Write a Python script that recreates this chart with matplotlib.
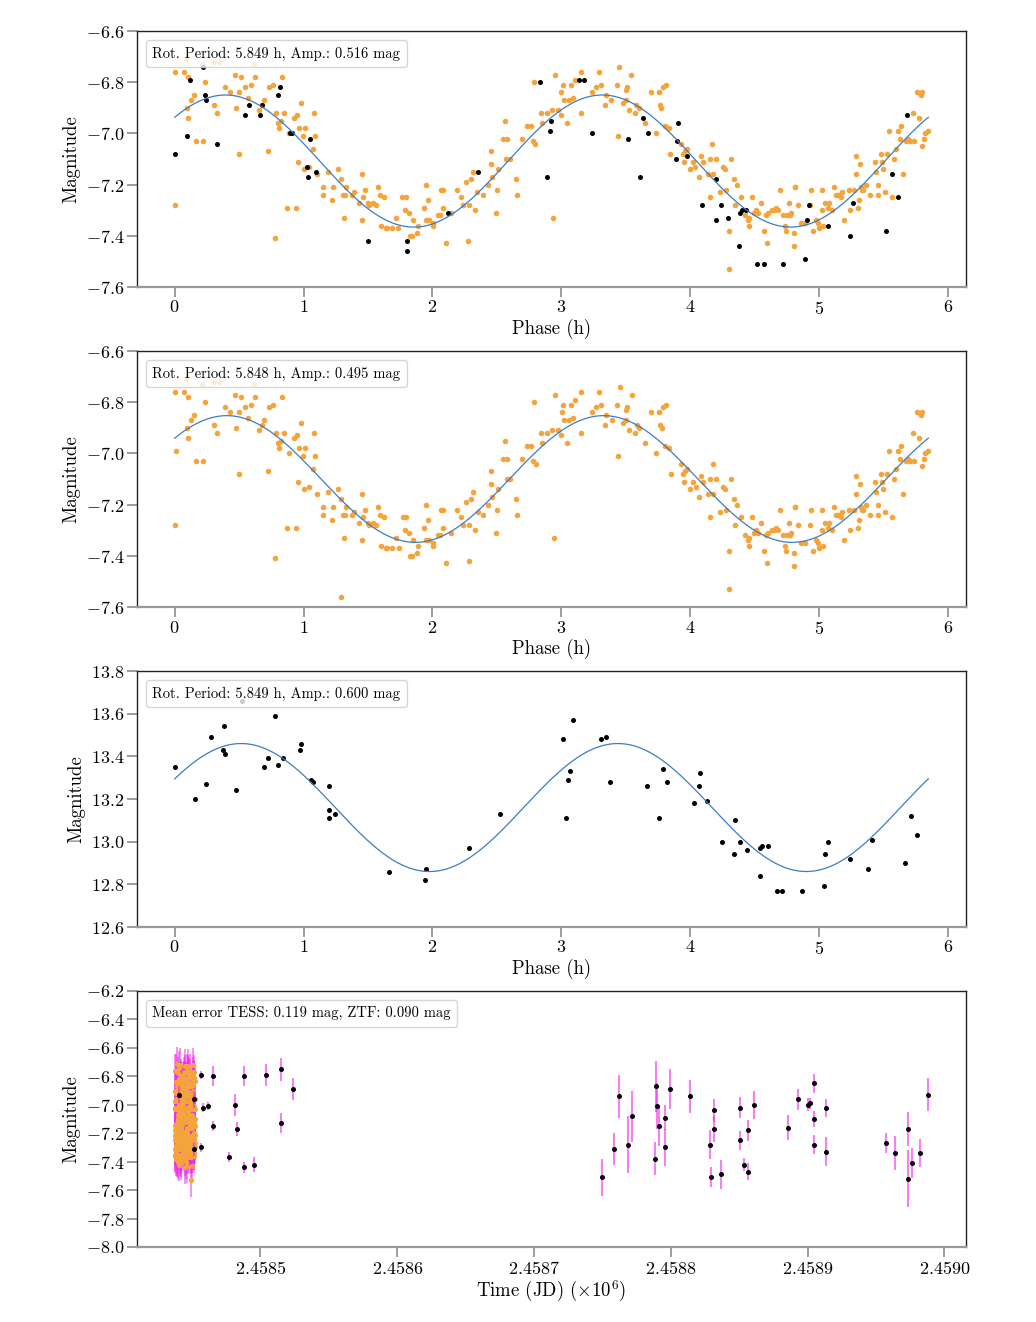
import numpy as np
import matplotlib
matplotlib.use("Agg")
import matplotlib.pyplot as plt
from matplotlib.ticker import MultipleLocator, ScalarFormatter
from matplotlib.lines import Line2D

plt.rcParams.update({
    "font.family": "serif",
    "font.serif": ["cmr10"],
    "mathtext.fontset": "cm",
    "axes.formatter.use_mathtext": True,
    "axes.unicode_minus": True,
})

# ---------------- data ----------------
# TESS photometry folded on the rotation period (phase in hours, absolute mag)
tess_phase = [
    0.005, 0.000, 0.070, 0.098, 0.104, 0.104, 0.129, 0.150, 0.163, 0.223,
    0.233, 0.303, 0.326, 0.393, 0.432, 0.466, 0.479, 0.497, 0.499, 0.512,
    0.543, 0.569, 0.590, 0.626, 0.652, 0.678, 0.696, 0.722, 0.732, 0.766,
    0.782, 0.789, 0.805, 0.836, 0.826, 0.810, 0.846, 0.872, 0.888, 0.929,
    0.939, 0.950, 0.955, 0.965, 0.978, 0.999, 1.002, 1.012, 1.040, 1.071,
    1.084, 1.090, 1.102, 1.149, 1.149, 1.193, 1.222, 1.232, 1.268, 1.289,
    1.312, 1.330, 1.304, 1.325, 1.379, 1.392, 1.429, 1.452, 1.454, 1.465,
    1.478, 1.498, 1.511, 1.542, 1.563, 1.579, 1.592, 1.602, 1.628, 1.643,
    1.649, 1.690, 1.716, 1.737, 1.768, 1.788, 1.796, 1.817, 1.825, 1.840,
    1.848, 1.881, 1.889, 1.933, 1.949, 1.954, 1.967, 1.977, 2.006, 2.008,
    2.045, 2.060, 2.068, 2.081, 2.081, 2.104, 2.145, 2.192, 2.220, 2.236,
    2.264, 2.285, 2.280, 2.303, 2.316, 2.334, 2.350, 2.394, 2.430, 2.453,
    2.453, 2.464, 2.497, 2.500, 2.510, 2.547, 2.562, 2.580, 2.575, 2.603,
    2.648, 2.653, 2.692, 2.736, 2.767, 2.780, 2.787, 2.800, 2.842, 2.847,
    2.891, 2.930, 2.940, 2.955, 2.976, 2.997, 3.002, 3.012, 3.023, 3.046,
    3.059, 3.072, 3.090, 3.106, 3.150, 3.150, 3.235, 3.266, 3.292, 3.305,
    3.338, 3.349, 3.390, 3.429, 3.439, 3.452, 3.478, 3.499, 3.509, 3.504,
    3.525, 3.545, 3.571, 3.584, 3.602, 3.649, 3.696, 3.732, 3.758, 3.765,
    3.778, 3.789, 3.812, 3.802, 3.835, 3.848, 3.931, 3.944, 3.952, 3.960,
    3.978, 3.998, 4.022, 4.042, 4.068, 4.084, 4.102, 4.138, 4.151, 4.154,
    4.174, 4.177, 4.198, 4.234, 4.255, 4.268, 4.278, 4.301, 4.314, 4.301,
    4.340, 4.348, 4.363, 4.392, 4.425, 4.446, 4.454, 4.456, 4.477, 4.495,
    4.513, 4.529, 4.547, 4.570, 4.586, 4.594, 4.607, 4.638, 4.653, 4.669,
    4.684, 4.695, 4.720, 4.733, 4.744, 4.754, 4.767, 4.772, 4.785, 4.803,
    4.803, 4.811, 4.814, 4.834, 4.860, 4.889, 4.933, 4.940, 4.953, 4.979,
    4.995, 5.000, 5.021, 5.026, 5.034, 5.047, 5.067, 5.080, 5.104, 5.116,
    5.135, 5.145, 5.168, 5.181, 5.197, 5.233, 5.243, 5.269, 5.285, 5.290,
    5.303, 5.311, 5.316, 5.326, 5.337, 5.344, 5.362, 5.396, 5.432, 5.440,
    5.455, 5.458, 5.479, 5.492, 5.499, 5.512, 5.530, 5.543, 5.569, 5.582,
    5.600, 5.613, 5.626, 5.637, 5.650, 5.673, 5.694, 5.704, 5.730, 5.740,
    5.764, 5.777, 5.789, 5.797, 5.802, 5.815, 5.823, 5.844, 0.091, 0.212,
    0.303, 0.347, 0.613,
]
tess_mag = [
    -6.76, -7.28, -6.76, -6.90, -6.94, -6.78, -6.87, -6.85, -7.03, -7.03,
    -6.80, -6.89, -6.92, -6.82, -6.84, -6.77, -6.90, -6.84, -7.08, -6.78,
    -6.82, -6.86, -6.81, -6.78, -6.91, -6.89, -6.87, -7.07, -6.82, -6.81,
    -7.41, -6.92, -6.96, -6.78, -6.95, -6.98, -6.92, -7.29, -7.00, -6.94,
    -7.29, -6.93, -7.11, -6.98, -6.88, -7.01, -7.14, -6.98, -7.13, -7.06,
    -6.92, -7.01, -7.16, -7.21, -7.24, -7.15, -7.26, -7.21, -7.14, -7.18,
    -7.33, -7.21, -7.24, -7.24, -7.24, -7.23, -7.27, -7.16, -7.34, -7.25,
    -7.22, -7.27, -7.28, -7.27, -7.28, -7.21, -7.24, -7.36, -7.25, -7.37,
    -7.37, -7.37, -7.33, -7.37, -7.25, -7.30, -7.25, -7.31, -7.40, -7.40,
    -7.34, -7.39, -7.36, -7.29, -7.20, -7.34, -7.26, -7.34, -7.36, -7.35,
    -7.32, -7.32, -7.22, -7.22, -7.29, -7.43, -7.31, -7.22, -7.25, -7.28,
    -7.19, -7.28, -7.42, -7.18, -7.15, -7.30, -7.23, -7.24, -7.20, -7.07,
    -7.12, -7.17, -7.31, -7.22, -7.14, -7.02, -6.95, -7.02, -7.10, -7.10,
    -7.18, -7.24, -7.02, -6.97, -6.97, -7.03, -6.80, -7.04, -6.92, -6.96,
    -6.92, -6.91, -7.33, -6.77, -6.91, -6.93, -6.84, -6.81, -6.87, -6.96,
    -6.87, -6.81, -6.86, -6.79, -6.76, -6.92, -6.84, -6.82, -6.76, -6.81,
    -6.89, -6.85, -6.87, -6.81, -7.01, -6.74, -6.88, -6.83, -6.82, -6.87,
    -6.91, -6.77, -6.92, -6.89, -6.90, -6.96, -6.84, -7.00, -6.84, -6.89,
    -6.90, -6.82, -6.81, -6.97, -6.98, -7.08, -7.04, -7.08, -7.11, -7.07,
    -7.06, -7.14, -7.11, -7.13, -7.17, -7.09, -7.11, -7.16, -7.10, -7.25,
    -7.04, -7.16, -7.10, -7.23, -7.13, -7.14, -7.22, -7.38, -7.10, -7.53,
    -7.18, -7.28, -7.20, -7.25, -7.32, -7.34, -7.33, -7.36, -7.25, -7.31,
    -7.30, -7.31, -7.27, -7.38, -7.32, -7.43, -7.31, -7.30, -7.30, -7.29,
    -7.30, -7.22, -7.32, -7.36, -7.38, -7.32, -7.27, -7.32, -7.31, -7.39,
    -7.44, -7.21, -7.21, -7.28, -7.35, -7.35, -7.28, -7.22, -7.38, -7.34,
    -7.35, -7.37, -7.22, -7.30, -7.36, -7.27, -7.29, -7.27, -7.30, -7.21,
    -7.24, -7.24, -7.25, -7.23, -7.34, -7.22, -7.30, -7.22, -7.16, -7.09,
    -7.29, -7.26, -7.12, -7.21, -7.22, -7.22, -7.20, -7.24, -7.11, -7.15,
    -7.20, -7.24, -7.08, -7.11, -7.14, -7.23, -7.08, -6.99, -7.25, -7.10,
    -7.06, -6.99, -7.02, -6.97, -7.16, -7.03, -7.02, -7.03, -6.92, -7.03,
    -6.84, -6.94, -6.85, -6.84, -7.05, -7.02, -7.00, -6.99, -6.71, -6.73,
    -6.72, -6.72, -6.73,
]
# points present only in the TESS-only fold
tess_extra_phase = [0.013, 1.291]
tess_extra_mag = [-6.99, -7.56]

# ZTF points (absolute mag) folded together with TESS
ztf_phase_a = [
    0.005, 0.098, 0.119, 0.217, 0.233, 0.246, 0.331, 0.543, 0.580, 0.660,
    0.678, 0.805, 0.820, 0.895, 0.908, 1.030, 1.033, 1.051, 1.100, 1.498,
    1.806, 1.801, 2.125, 2.355, 2.839, 2.888, 2.911, 2.924, 3.137, 3.175,
    3.235, 3.522, 3.615, 3.633, 3.672, 3.887, 3.895, 3.908, 3.978, 4.092,
    4.198, 4.200, 4.242, 4.296, 4.376, 4.387, 4.405, 4.436, 4.519, 4.573,
    4.718, 4.891, 4.904, 4.920, 5.067, 5.238, 5.261, 5.517, 5.567, 5.611,
    5.683,
]
ztf_mag_a = [
    -7.08, -7.01, -6.79, -6.74, -6.85, -6.87, -7.04, -6.93, -6.89, -6.93,
    -6.89, -6.85, -6.82, -7.00, -7.00, -7.13, -7.17, -7.02, -7.15, -7.42,
    -7.42, -7.46, -7.31, -7.15, -6.80, -7.17, -6.99, -6.95, -6.79, -6.79,
    -7.00, -7.02, -7.17, -6.94, -7.00, -7.10, -7.03, -6.96, -7.09, -7.28,
    -7.34, -7.18, -7.28, -7.33, -7.44, -7.31, -7.30, -7.30, -7.51, -7.51,
    -7.51, -7.49, -7.34, -7.28, -7.36, -7.40, -7.27, -7.38, -7.16, -7.25,
    -6.93,
]

# ZTF-only fold (apparent mag)
ztf_phase_b = [
    0.000, 0.155, 0.243, 0.282, 0.375, 0.380, 0.393, 0.476, 0.523, 0.691,
    0.725, 0.779, 0.800, 0.839, 0.970, 0.983, 1.058, 1.077, 1.196, 1.196,
    1.199, 1.247, 1.667, 1.946, 1.954, 2.288, 2.523, 3.010, 3.036, 3.056,
    3.067, 3.095, 3.307, 3.346, 3.382, 3.664, 3.755, 3.786, 3.820, 4.032,
    4.068, 4.079, 4.128, 4.244, 4.340, 4.350, 4.389, 4.441, 4.539, 4.555,
    4.542, 4.607, 4.674, 4.715, 4.868, 5.041, 5.047, 5.067, 5.238, 5.378,
    5.409, 5.667, 5.716, 5.763,
]
ztf_mag_b = [
    13.35, 13.20, 13.27, 13.49, 13.43, 13.54, 13.41, 13.24, 13.66, 13.35,
    13.39, 13.59, 13.36, 13.39, 13.43, 13.46, 13.29, 13.28, 13.26, 13.15,
    13.11, 13.13, 12.86, 12.82, 12.87, 12.97, 13.13, 13.48, 13.11, 13.29,
    13.33, 13.57, 13.48, 13.49, 13.28, 13.26, 13.11, 13.34, 13.28, 13.18,
    13.26, 13.32, 13.19, 13.00, 12.94, 13.10, 13.00, 12.96, 12.97, 12.98,
    12.84, 12.98, 12.77, 12.77, 12.77, 12.79, 12.94, 13.00, 12.92, 12.87,
    13.01, 12.90, 13.12, 13.03,
]

# ZTF light curve in time
ztf_jd = [
    2458440.1, 2458451.3, 2458451.3, 2458456.2, 2458458.2, 2458456.2, 2458462.0,
    2458465.2, 2458465.0, 2458477.1, 2458481.2, 2458483.0, 2458488.1, 2458488.1,
    2458495.1, 2458504.1, 2458515.1, 2458515.1, 2458523.9,
    2458749.6, 2458758.6, 2458761.8, 2458768.6, 2458771.5, 2458788.8, 2458789.5,
    2458789.8, 2458791.7, 2458795.9, 2458795.9, 2458799.8, 2458813.9, 2458828.7,
    2458829.7, 2458831.6, 2458831.6, 2458836.7, 2458850.6, 2458850.6, 2458853.5,
    2458856.7, 2458856.7, 2458860.6, 2458885.6, 2458892.7, 2458900.5, 2458901.5,
    2458904.6, 2458904.6, 2458904.6, 2458913.4, 2458913.4, 2458957.5, 2458964.2,
    2458973.2, 2458973.2, 2458976.2, 2458982.3, 2458988.3,
]
ztf_mag_t = [
    -6.93, -6.96, -7.31, -6.79, -7.02, -7.30, -7.01, -6.80, -7.15, -7.37,
    -7.00, -7.17, -6.80, -7.44, -7.42, -6.79, -6.75, -7.13, -6.89,
    -7.51, -7.31, -6.94, -7.28, -7.08, -7.38, -6.87, -7.01, -7.15, -7.09,
    -7.30, -6.89, -6.94, -7.28, -7.51, -7.04, -7.17, -7.49, -7.25, -7.02,
    -7.42, -7.18, -7.47, -7.00, -7.16, -6.96, -7.00, -6.99, -6.85, -7.10,
    -7.28, -7.02, -7.33, -7.27, -7.34, -7.17, -7.52, -7.41, -7.34, -6.93,
]
ztf_err = [
    0.06, 0.06, 0.05, 0.03, 0.03, 0.03, 0.03, 0.07, 0.035, 0.035,
    0.078, 0.05, 0.07, 0.04, 0.055, 0.075, 0.08, 0.07, 0.075,
    0.132, 0.110, 0.152, 0.199, 0.18, 0.117, 0.18, 0.16, 0.14, 0.09,
    0.13, 0.14, 0.117, 0.10, 0.07, 0.08, 0.09, 0.10, 0.065, 0.074,
    0.048, 0.076, 0.062, 0.10, 0.09, 0.074, 0.045, 0.04, 0.066, 0.055,
    0.066, 0.063, 0.103, 0.07, 0.12, 0.12, 0.20, 0.103, 0.096, 0.117,
]

# fit parameters
period_a, amp_a, mean_a, peak_a = 5.849, 0.516, -7.108, 0.394
period_b, amp_b, mean_b, peak_b = 5.848, 0.495, -7.100, 0.405
period_c, amp_c, mean_c, peak_c = 5.849, 0.600, 13.160, 0.515
tess_mean_err, ztf_mean_err = 0.119, 0.090
tess_start_jd = 2458437.3
tess_n_cycles = 61

legend_a = "Rot. Period: 5.849 h, Amp.: 0.516 mag"
legend_b = "Rot. Period: 5.848 h, Amp.: 0.495 mag"
legend_c = "Rot. Period: 5.849 h, Amp.: 0.600 mag"
legend_d = "Mean error TESS: 0.119 mag, ZTF: 0.090 mag"

# ---------------- styling ----------------
ORANGE = "#F4A43C"
BLUE = "#3C7DC2"
MAG = "#EE2BEE"
TICK_GRAY = "#8c8c8c"
FS_TICK = 13
FS_LABEL = 13.5
FS_LEG = 10.5

fig = plt.figure(figsize=(10.36, 13.22), dpi=100)
left, width, height = 137 / 1036, (966 - 137) / 1036, 256 / 1322
bottoms = [1 - 287 / 1322, 1 - 607 / 1322, 1 - 927 / 1322, 1 - 1247 / 1322]
axes = [fig.add_axes([left, b, width, height]) for b in bottoms]


def style(ax):
    for s in ["left", "top", "right"]:
        ax.spines[s].set_color("#222222")
        ax.spines[s].set_linewidth(1.0)
    ax.spines["bottom"].set_color("#999999")
    ax.spines["bottom"].set_linewidth(1.6)
    ax.tick_params(axis="both", direction="out", length=7, width=1.2,
                   color=TICK_GRAY, labelsize=FS_TICK, pad=2)


def text_legend(ax, txt):
    h = Line2D([], [], linestyle="none")
    ax.legend([h], [txt], loc="upper left", handlelength=0, handletextpad=0,
              fontsize=FS_LEG, borderaxespad=0.6, borderpad=0.45)


def model(period, amp, mean, peak):
    ph = np.linspace(0, period, 400)
    return ph, mean + amp / 2 * np.cos(4 * np.pi * (ph - peak) / period)


# panel 1: TESS + ZTF
ax = axes[0]
ax.scatter(tess_phase, tess_mag, s=16, color=ORANGE, linewidths=0, zorder=2)
ax.scatter(ztf_phase_a, ztf_mag_a, s=13, color="black", linewidths=0, zorder=3)
ph, m = model(period_a, amp_a, mean_a, peak_a)
ax.plot(ph, m, color=BLUE, lw=0.9, zorder=4)
ax.set_ylim(-7.6, -6.6)
ax.yaxis.set_major_locator(MultipleLocator(0.2))
ax.xaxis.set_major_locator(MultipleLocator(1))
ax.set_xlabel("Phase (h)", fontsize=FS_LABEL, labelpad=2)
ax.set_ylabel("Magnitude", fontsize=FS_LABEL)
text_legend(ax, legend_a)
style(ax)

# panel 2: TESS only
ax = axes[1]
ax.scatter(list(tess_phase) + tess_extra_phase, list(tess_mag) + tess_extra_mag,
           s=16, color=ORANGE, linewidths=0, zorder=2)
ph, m = model(period_b, amp_b, mean_b, peak_b)
ax.plot(ph, m, color=BLUE, lw=0.9, zorder=4)
ax.set_ylim(-7.6, -6.6)
ax.yaxis.set_major_locator(MultipleLocator(0.2))
ax.xaxis.set_major_locator(MultipleLocator(1))
ax.set_xlabel("Phase (h)", fontsize=FS_LABEL, labelpad=2)
ax.set_ylabel("Magnitude", fontsize=FS_LABEL)
text_legend(ax, legend_b)
style(ax)

# panel 3: ZTF only
ax = axes[2]
ax.scatter(ztf_phase_b, ztf_mag_b, s=13, color="black", linewidths=0, zorder=3)
ph, m = model(period_c, amp_c, mean_c, peak_c)
ax.plot(ph, m, color=BLUE, lw=0.9, zorder=4)
ax.set_ylim(12.6, 13.8)
ax.yaxis.set_major_locator(MultipleLocator(0.2))
ax.xaxis.set_major_locator(MultipleLocator(1))
ax.set_xlabel("Phase (h)", fontsize=FS_LABEL, labelpad=2)
ax.set_ylabel("Magnitude", fontsize=FS_LABEL)
text_legend(ax, legend_c)
style(ax)

# panel 4: light curve vs time
ax = axes[3]
tp = np.asarray(tess_phase)
cycle = (np.arange(tp.size) * 23) % tess_n_cycles
tess_jd = tess_start_jd + (cycle * period_a + tp) / 24.0
ax.errorbar(tess_jd / 1e6, tess_mag, yerr=tess_mean_err, fmt="none",
            ecolor=MAG, elinewidth=1.2, alpha=0.6, zorder=1)
ax.scatter(tess_jd / 1e6, tess_mag, s=14, color=ORANGE, linewidths=0, zorder=2)
zj = np.asarray(ztf_jd) / 1e6
ax.errorbar(zj, ztf_mag_t, yerr=ztf_err, fmt="none", ecolor=MAG,
            elinewidth=1.5, alpha=0.6, zorder=3)
ax.scatter(zj, ztf_mag_t, s=13, color="black", linewidths=0, zorder=4)
ax.set_ylim(-8.0, -6.2)
ax.yaxis.set_major_locator(MultipleLocator(0.2))
ax.xaxis.set_major_locator(MultipleLocator(1e-4))
fmt = ScalarFormatter(useOffset=False, useMathText=True)
fmt.set_scientific(False)
ax.xaxis.set_major_formatter(fmt)
ax.set_xlabel(r"Time (JD) ($\times10^6$)", fontsize=FS_LABEL, labelpad=2)
ax.set_ylabel("Magnitude", fontsize=FS_LABEL)
text_legend(ax, legend_d)
style(ax)

fig.savefig("out.png", dpi=100, facecolor="white")
